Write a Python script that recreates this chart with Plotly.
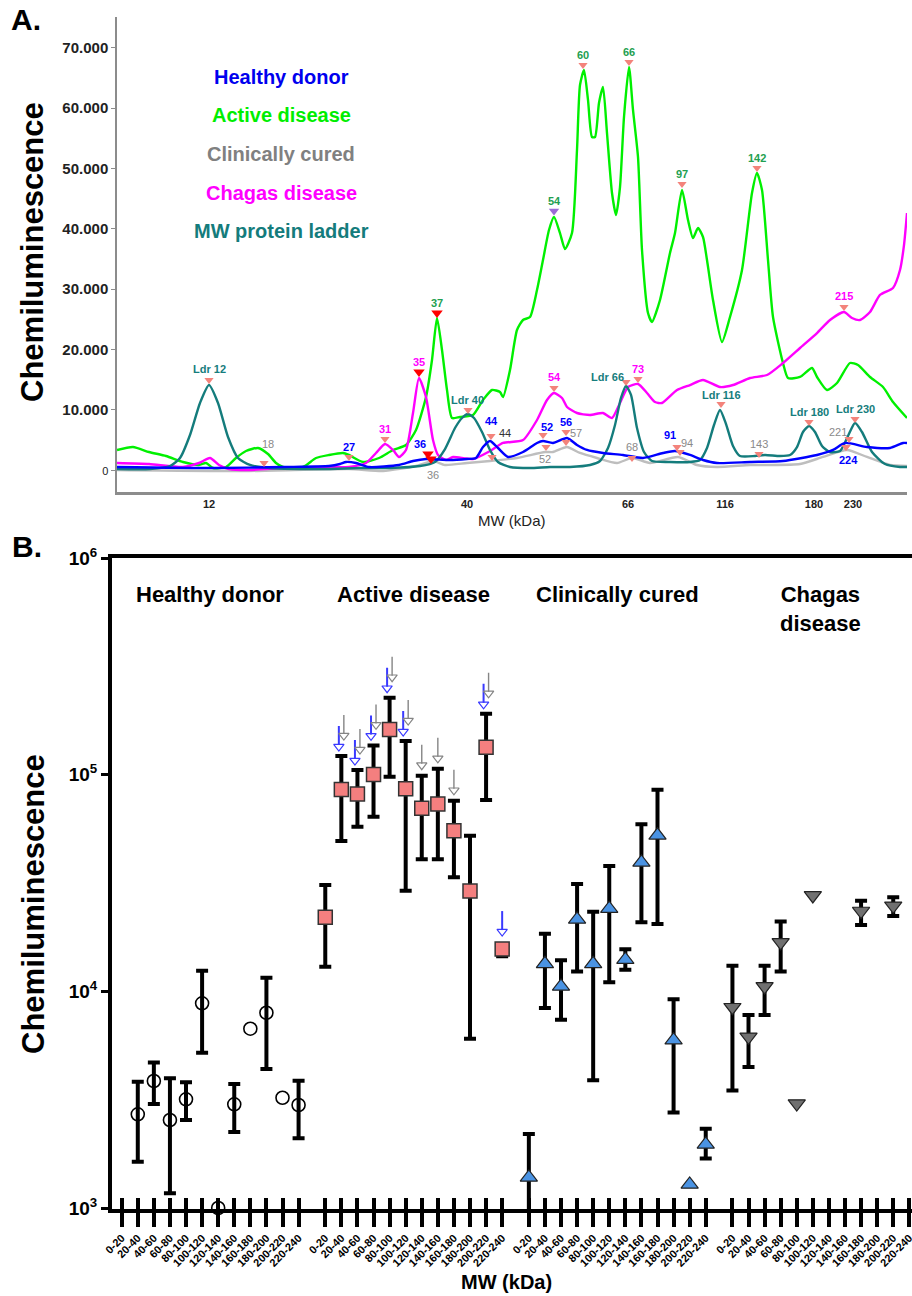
import math
import plotly.graph_objects as go

FONT = "Liberation Sans, Arial, sans-serif"
W, H = 912, 1296

# ======================= Panel A data =======================
# x = migration position on the blot (arbitrary units), y = chemiluminescence
mw_tick_pos = [209, 467, 628, 725, 814, 853]
mw_tick_text = ["12", "40", "66", "116", "180", "230"]
a_ytick_vals = [0, 10000, 20000, 30000, 40000, 50000, 60000, 70000]
a_ytick_text = ["0", "10.000", "20.000", "30.000", "40.000", "50.000", "60.000", "70.000"]

ladder_x = [117, 150, 170, 180, 190, 200, 209, 218, 228, 238, 250, 270, 300, 330, 360, 390, 420, 435, 445, 455,
            462, 468, 474, 482, 490, 498, 510, 530, 550, 570, 590, 600, 608, 615, 621, 626, 631, 637, 644, 652,
            670, 690, 700, 707, 714, 720, 726, 733, 740, 755, 765, 780, 790, 797, 803, 809, 815, 822, 830, 840,
            848, 855, 862, 872, 885, 900, 907]
ladder_y = [170, 170, 660, 1990, 5800, 11110, 14090, 11110, 5470, 1990, 830, 330, 170, 170, 330, 330, 660, 1330, 3480, 6960,
            8620, 9280, 8620, 6300, 3320, 1330, 500, 330, 500, 500, 830, 1490, 3650, 7460, 11940, 13930, 12440, 6960, 2980, 1490,
            1330, 1330, 1660, 3650, 7460, 9950, 7630, 3980, 2320, 2320, 2490, 2320, 2490, 3810, 6300, 7300, 6300, 3980, 2980, 3150,
            5640, 7790, 6300, 2980, 990, 500, 500]

active_x = [117, 133, 149, 166, 183, 199, 206, 213, 226, 236, 246, 258, 268, 276, 283, 303, 316, 329, 343, 349,
            363, 379, 393, 406, 416, 426, 432, 437, 442, 447, 452, 460, 473, 483, 492, 500, 503, 510, 517, 523,
            530, 537, 543, 549, 554, 560, 565, 572, 577, 580, 584, 588, 592, 595, 599, 603, 607, 612, 616, 620,
            624, 629, 633, 638, 642, 648, 652, 660, 670, 675, 682, 688, 693, 698, 703, 707, 713, 722, 730, 742,
            752, 757, 762, 768, 773, 783, 788, 800, 812, 817, 827, 837, 850, 858, 870, 883, 893, 907]
active_y = [3320, 3810, 2980, 2320, 1330, 830, 1160, 330, 500, 1990, 3150, 3650, 2650, 1160, 500, 500, 1990, 2490, 2820, 2490,
            1330, 1990, 3320, 4150, 6630, 12100, 18240, 25200, 19900, 13260, 8620, 8790, 9120, 11610, 13260, 12930, 12100, 16580, 23210, 24870,
            25370, 29840, 34820, 39790, 41950, 39290, 36640, 39290, 53060, 63830, 66320, 61350, 55210, 55210, 60850, 63500, 55870, 45930, 42280, 46920,
            58530, 66820, 59690, 51900, 36480, 26030, 24540, 28190, 35980, 39290, 46420, 41450, 38470, 40120, 38630, 34820, 28190, 21220, 25370, 33160,
            45930, 49240, 46420, 34820, 25370, 17740, 15250, 15420, 16910, 15420, 13260, 14420, 17740, 17410, 15420, 13760, 11270, 8620]

chagas_line_x = [117, 149, 183, 199, 210, 219, 229, 249, 283, 316, 349, 366, 376, 385, 393, 399, 406, 413, 419, 426,
                 433, 438, 446, 453, 473, 490, 503, 523, 537, 547, 554, 562, 567, 577, 590, 603, 612, 620, 628, 638,
                 647, 655, 662, 677, 690, 703, 720, 733, 750, 767, 783, 800, 817, 830, 844, 852, 860, 870, 880, 893,
                 900, 904, 907]
chagas_line_y = [1160, 990, 500, 1160, 1990, 830, 170, 0, 330, 500, 500, 1160, 2820, 4310, 3320, 2160, 3320, 9450, 15250, 12100,
                 4970, 2490, 1660, 2160, 1820, 3150, 4480, 4970, 8290, 11610, 12770, 11940, 10450, 9450, 9120, 9450, 8620, 11110, 13760, 14260,
                 12770, 11270, 11110, 13260, 14090, 14920, 13760, 14090, 15250, 15750, 17740, 20230, 22710, 24870, 26200, 25200, 24870, 26200, 29020, 30180,
                 33160, 37300, 42610]

healthy_line_x = [117, 216, 283, 329, 340, 346, 356, 369, 399, 413, 426, 449, 467, 476, 483, 490, 498, 508, 523, 537,
                  543, 553, 567, 577, 587, 603, 623, 643, 663, 675, 690, 703, 717, 750, 783, 817, 833, 845, 867, 890,
                  903, 907]
healthy_line_y = [500, 330, 500, 660, 990, 1330, 1160, 500, 830, 1490, 1820, 1660, 1820, 1990, 3810, 4810, 3650, 2160, 2980, 4480,
                  4810, 4480, 5310, 4150, 3320, 2820, 2490, 1990, 2820, 3150, 2490, 1660, 1160, 1330, 1490, 2490, 3320, 4480, 3810, 3650,
                  4480, 4480]

cured_line_x = [117, 249, 349, 383, 416, 433, 445, 467, 490, 517, 545, 553, 567, 580, 597, 617, 632, 650, 678, 697,
                717, 750, 767, 800, 823, 847, 867, 890, 907]
cured_line_y = [0, -170, 170, -170, 660, 1490, 830, 1160, 1490, 1990, 2980, 2980, 3810, 2820, 1990, 1160, 1990, 1160, 2160, 830,
                500, 830, 830, 990, 2160, 3320, 2160, 830, 660]

# Peak labels (text position and peak marker position)
peak_text = ["Ldr 12", "Ldr 40", "Ldr 66", "Ldr 116", "Ldr 180", "Ldr 230",
             "37", "54", "60", "66", "97", "142",
             "31", "35", "54", "73", "215",
             "27", "36", "44", "52", "56", "91", "224",
             "18", "36", "44", "52", "57", "68", "94", "143", "221"]
peak_series = ["ladder"] * 6 + ["active"] * 6 + ["chagas"] * 5 + ["healthy"] * 7 + \
              ["cured", "cured", "dark", "cured", "cured", "cured", "cured", "cured", "cured"]
peak_text_x = [209, 467, 607, 721, 809, 855, 437, 554, 583, 629, 682, 757, 385, 419, 554, 638, 844,
               349, 420, 491, 547, 566, 670, 848, 268, 433, 505, 545, 576, 632, 687, 759, 838]
peak_text_y = [16750, 11610, 15420, 12440, 9620, 10110, 27690, 44600, 68810, 69300, 49080, 51730,
               6800, 17910, 15420, 16750, 28850, 3810, 4310, 8120, 7130, 7960, 5800, 1660,
               4310, -830, 6130, 1820, 6130, 3810, 4480, 4310, 6300]
peak_mark_x = [209, 468, 626, 721, 809, 855, 437, 554, 583, 629, 682, 757, 385, 419, 554, 638, 844,
               349, 428, 491, 543, 566, 677, 846, 264, 431, 492, 546, 566, 632, 680, 759, 849]
peak_mark_y = [14920, 9950, 14590, 10940, 7960, 8460, 26030, 42940, 67150, 67650, 47420, 50070,
               5140, 16250, 13600, 15090, 27030, 2160, 2650, 5640, 5800, 6300, 3810, 3810,
               1160, 1820, 2160, 3810, 4640, 1990, 2980, 2650, 5140]
peak_mark_kind = ["s"] * 6 + ["r", "p", "s", "s", "s", "s"] + ["s", "r", "s", "s", "s"] + \
                 ["s", "r", "s", "s", "s", "s", "s"] + ["s", "r", "s", "s", "s", "s", "s", "s", "s"]

legend_names = ["Healthy donor", "Active disease", "Clinically cured", "Chagas disease", "MW protein ladder"]

# ======================= Panel B data =======================
mw_bins = ["0-20", "20-40", "40-60", "60-80", "80-100", "100-120", "120-140",
           "140-160", "160-180", "180-200", "200-220", "220-240"]
group_names = ["Healthy donor", "Active disease", "Clinically cured", "Chagas<br>disease"]

healthy_val = [None, 2707, 3855, 2547, 3175, 8806, 1000, 3010, 6722, 7965, 3228, 2987]
healthy_hi = [None, 3830, 4700, 3967, 3803, 12450, None, 3733, None, 11560, None, 3865]
healthy_lo = [None, 1636, 3020, 1169, 2547, 5210, None, 2244, None, 4379, None, 2097]

active_val = [21960, 85500, 81380, 100300, 161800, 86000, 69900, 73160, 55080, 29030, 133700, 15670]
active_hi = [30940, 121850, 105000, 136500, 226500, 142900, 98900, 106400, 75780, 52240, 190900, 15670]
active_lo = [12990, 49390, 57500, 63930, 97700, 29100, 40650, 40650, 33580, 6042, 76380, 14500]

cured_val = [1384, 13400, 10530, 21480, 13400, 24080, 14000, 39350, 52500, 5948, 1285, 1966]
cured_hi = [2196, 18460, 13900, 31280, 23290, 37900, 15630, 59000, 85300, 9194, None, 2320]
cured_lo = [700, 8375, 7400, 12340, 3890, 11020, 12580, 20850, 20460, 2759, None, 1694]

chagas_val = [8446, 6166, 10530, 16830, 3034, 27710, None, None, 23480, None, 24810, None]
chagas_hi = [13140, 7767, 13140, 21020, None, None, None, None, 26220, None, 27210, None]
chagas_lo = [3482, 4480, 7767, 12340, None, None, None, None, 20230, None, 22280, None]

# arrows above Active disease bins (1 = arrow present)
arrow_blue = [0, 1, 1, 1, 1, 1, 0, 0, 0, 0, 1, 1]
arrow_grey = [0, 1, 1, 1, 1, 1, 1, 1, 1, 0, 1, 0]

red_cutoff = 30900
green_cutoff = 12810

# ======================= layout helpers =======================
GROUP_STEP = 12.66
PX_PER_UNIT = 16.08
PX_PER_DEC = 650 / 3.0
B_XRANGE = [-0.603, 49.147]
B_YRANGE = [2.994, 6]
B_BOTTOM_PX = 1208 + (3 - B_YRANGE[0]) * PX_PER_DEC


def pos(g, i):
    return g * GROUP_STEP + i


def up(v, px):
    return v * 10 ** (px / PX_PER_DEC)


fig = go.Figure()

# ---------------- Panel A traces ----------------
line_w = 2.4
for xs, ys, col in [(cured_line_x, cured_line_y, "#BEBEBE"),
                    (active_x, active_y, "#00F000"),
                    (chagas_line_x, chagas_line_y, "#FF00FF"),
                    (ladder_x, ladder_y, "#147C7C"),
                    (healthy_line_x, healthy_line_y, "#0000FF")]:
    fig.add_trace(go.Scatter(x=xs, y=ys, mode="lines", xaxis="x", yaxis="y",
                             line=dict(color=col, width=line_w, shape="spline", smoothing=0.6),
                             hoverinfo="skip", showlegend=False))

mark_colors = {"s": "#F3837B", "r": "#FF0000", "p": "#9C6BD6"}
mark_sizes = {"s": 8, "r": 10, "p": 9}
for kind in ["s", "r", "p"]:
    xs = [x for x, k in zip(peak_mark_x, peak_mark_kind) if k == kind]
    ys = [y for y, k in zip(peak_mark_y, peak_mark_kind) if k == kind]
    fig.add_trace(go.Scatter(x=xs, y=ys, mode="markers", xaxis="x", yaxis="y",
                             marker=dict(symbol="triangle-down", size=mark_sizes[kind], color=mark_colors[kind],
                                         line=dict(width=0)),
                             hoverinfo="skip", showlegend=False))
# extra marker of "221"
fig.add_trace(go.Scatter(x=[846], y=[3810], mode="markers", xaxis="x", yaxis="y",
                         marker=dict(symbol="triangle-down", size=8, color="#F3837B"),
                         hoverinfo="skip", showlegend=False))

label_colors = {"ladder": "#167D7D", "active": "#22A050", "chagas": "#FF00FF",
                "healthy": "#0000FF", "cured": "#8A8A8A", "dark": "#333333"}

annotations = []
for t, s, tx, ty in zip(peak_text, peak_series, peak_text_x, peak_text_y):
    bold = s not in ("cured", "dark")
    annotations.append(dict(x=tx, y=ty, xref="x", yref="y", text=t, showarrow=False,
                            xanchor="center", yanchor="middle",
                            font=dict(family=FONT, size=11, color=label_colors[s],
                                      weight="bold" if bold else "normal")))

legend_colors = ["#0000EE", "#00EE00", "#808080", "#FF00FF", "#147C7C"]
legend_py = [77, 115, 154, 193, 231]
for name, col, py in zip(legend_names, legend_colors, legend_py):
    annotations.append(dict(x=281 / W, y=1 - py / H, xref="paper", yref="paper", text=name,
                            showarrow=False, xanchor="center", yanchor="middle",
                            font=dict(family=FONT, size=20, color=col, weight="bold")))


# ---------------- Panel B traces ----------------
def add_group(g, vals, his, los, marker):
    ex, ey, plus, minus = [], [], [], []
    for i, (v, h, l) in enumerate(zip(vals, his, los)):
        if v is not None and h is not None and l is not None:
            ex.append(pos(g, i))
            ey.append(v)
            plus.append(h - v)
            minus.append(v - l)
    # error bars only where they exist
    fig.add_trace(go.Scatter(
        x=ex, y=ey, mode="markers", xaxis="x2", yaxis="y2",
        marker=dict(size=4, opacity=0), cliponaxis=False,
        error_y=dict(type="data", symmetric=False, array=plus, arrayminus=minus,
                     color="black", thickness=4, width=6),
        hoverinfo="skip", showlegend=False))
    fig.add_trace(go.Scatter(
        x=[pos(g, i) for i in range(12)], y=vals, mode="markers", xaxis="x2", yaxis="y2",
        marker=marker, cliponaxis=False, hoverinfo="skip", showlegend=False))


add_group(0, healthy_val, healthy_hi, healthy_lo,
          dict(symbol="circle-open", size=13, color="black", line=dict(width=1.6, color="black")))
add_group(1, active_val, active_hi, active_lo,
          dict(symbol="square", size=14, color="#F47F7F", line=dict(width=1.5, color="#333333")))
add_group(2, cured_val, cured_hi, cured_lo,
          dict(symbol="triangle-up", size=15, color="#4A93E3", line=dict(width=1.2, color="#222222")))
add_group(3, chagas_val, chagas_hi, chagas_lo,
          dict(symbol="triangle-down", size=15, color="#707070", line=dict(width=1.2, color="#222222")))

# arrows
dx = 2.5 / PX_PER_UNIT
arrows = {"blue": ([], [], [], []), "grey": ([], [], [], [])}
for i in range(12):
    v, h = active_val[i], active_hi[i]
    base = h if (h is not None and h > v) else up(v, 7)
    both = arrow_blue[i] and arrow_grey[i]
    for key, flag in (("blue", arrow_blue[i]), ("grey", arrow_grey[i])):
        if not flag:
            continue
        if both:
            xo = -dx if key == "blue" else dx
            tip = up(base, 5 if key == "blue" else 16)
        else:
            xo = 0
            tip = up(base, 6)
        x = pos(1, i) + xo
        sx, sy, hx, hy = arrows[key]
        sx += [x, x, None]
        sy += [up(tip, 25), up(tip, 6), None]
        hx.append(x)
        hy.append(up(tip, 4.5))

for key, col, wd in (("blue", "#3A3AFF", 2.0), ("grey", "#858585", 1.4)):
    sx, sy, hx, hy = arrows[key]
    fig.add_trace(go.Scatter(x=sx, y=sy, mode="lines", xaxis="x2", yaxis="y2",
                             line=dict(color=col, width=wd), hoverinfo="skip", showlegend=False))
    fig.add_trace(go.Scatter(x=hx, y=hy, mode="markers", xaxis="x2", yaxis="y2",
                             marker=dict(symbol="triangle-down-open", size=9, color=col, line=dict(width=1.2)),
                             hoverinfo="skip", showlegend=False))

# dummy trace so the overlay tick axis exists
fig.add_trace(go.Scatter(x=[pos(0, 0)], y=[None], mode="markers", xaxis="x3", yaxis="y2",
                         hoverinfo="skip", showlegend=False))

shapes = []
for g in range(1, 4):
    xs = g * GROUP_STEP - (GROUP_STEP - 11) / 2
    shapes.append(dict(type="line", xref="x2", yref="y2", x0=xs, x1=xs, y0=3, y1=6,
                       line=dict(color="#555555", width=1, dash="1px,2px"), layer="below"))
shapes.append(dict(type="line", xref="x2", yref="y2", x0=-0.1, x1=B_XRANGE[1],
                   y0=math.log10(red_cutoff), y1=math.log10(red_cutoff),
                   line=dict(color="#FF0000", width=3, dash="3px,5px"), layer="below"))
shapes.append(dict(type="line", xref="x2", yref="y2", x0=0.3, x1=B_XRANGE[1],
                   y0=math.log10(green_cutoff), y1=math.log10(green_cutoff),
                   line=dict(color="#00CC00", width=3, dash="3px,5px"), layer="below"))

for g, name in enumerate(group_names):
    annotations.append(dict(x=pos(g, 5.5), y=1 - 580 / H, xref="x2", yref="paper", text=name,
                            showarrow=False, xanchor="center", yanchor="top",
                            font=dict(family=FONT, size=22, color="black", weight="bold")))

# titles
annotations += [
    dict(x=26 / W, y=1 - 20 / H, xref="paper", yref="paper", text="A.", showarrow=False,
         xanchor="center", yanchor="middle",
         font=dict(family=FONT, size=30, color="black", weight="bold")),
    dict(x=27 / W, y=1 - 547 / H, xref="paper", yref="paper", text="B.", showarrow=False,
         xanchor="center", yanchor="middle",
         font=dict(family=FONT, size=30, color="black", weight="bold")),
    dict(x=33 / W, y=1 - 252 / H, xref="paper", yref="paper", text="Chemiluminescence", textangle=-90,
         xanchor="center", yanchor="middle",
         showarrow=False, font=dict(family=FONT, size=31, color="black", weight="bold")),
    dict(x=33 / W, y=1 - 904 / H, xref="paper", yref="paper", text="Chemiluminescence", textangle=-90,
         xanchor="center", yanchor="middle",
         showarrow=False, font=dict(family=FONT, size=31, color="black", weight="bold")),
    dict(x=512 / W, y=1 - 521 / H, xref="paper", yref="paper", text="MW (kDa)", showarrow=False,
         xanchor="center", yanchor="middle",
         font=dict(family=FONT, size=15, color="#222222")),
    dict(x=506 / W, y=1 - 1282 / H, xref="paper", yref="paper", text="MW (kDa)", showarrow=False,
         xanchor="center", yanchor="middle",
         font=dict(family=FONT, size=20, color="black", weight="bold")),
]

b_tickvals = [pos(g, i) for g in range(4) for i in range(12)]
b_ticktext = mw_bins * 4

fig.update_layout(
    width=W, height=H, margin=dict(l=0, r=0, t=0, b=0, pad=0, autoexpand=False),
    paper_bgcolor="white", plot_bgcolor="white", showlegend=False,
    font=dict(family=FONT, color="black"),
    xaxis=dict(domain=[117 / W, 907 / W], anchor="y", range=[117, 907],
               showline=True, linecolor="#8C8C8C", linewidth=3, ticks="",
               tickvals=mw_tick_pos, ticktext=mw_tick_text,
               tickfont=dict(family=FONT, size=11, color="#222222", weight="bold"),
               showgrid=False, zeroline=False, automargin=False),
    yaxis=dict(domain=[1 - 492 / H, 1 - 17 / H], anchor="x", range=[-3648, 75107],
               showline=True, linecolor="#8C8C8C", linewidth=1.5, ticks="outside", ticklen=4,
               tickcolor="#8C8C8C", tickvals=a_ytick_vals,
               ticktext=["<span style='font-weight:normal;font-size:11px'>0</span>"] + a_ytick_text[1:],
               tickfont=dict(family=FONT, size=15, color="#222222", weight="bold"),
               showgrid=False, zeroline=False, automargin=False),
    xaxis2=dict(domain=[112 / W, 1.0], anchor="y2", range=B_XRANGE,
                showline=True, linecolor="black", linewidth=4, mirror=True,
                ticks="outside", ticklen=14, tickwidth=4, tickcolor="black",
                tickvals=b_tickvals, ticktext=b_ticktext, tickangle=-45,
                ticklabeloverflow="allow",
                tickfont=dict(family=FONT, size=11, color="black", weight="bold"),
                showgrid=False, zeroline=False, automargin=False),
    xaxis3=dict(overlaying="x2", anchor="y2", range=B_XRANGE,
                ticks="inside", ticklen=11, tickwidth=4, tickcolor="black",
                tickvals=b_tickvals, showticklabels=False, showline=False,
                showgrid=False, zeroline=False, automargin=False),
    yaxis2=dict(domain=[1 - B_BOTTOM_PX / H, 1 - 558 / H], anchor="x2", type="log", range=B_YRANGE,
                showline=True, linecolor="black", linewidth=4,
                ticks="outside", ticklen=7, tickwidth=3, tickcolor="black",
                tickvals=[1e3, 1e4, 1e5, 1e6],
                ticktext=["10<sup>3</sup>", "10<sup>4</sup>", "10<sup>5</sup>", "10<sup>6</sup>"],
                tickfont=dict(family=FONT, size=19, color="black", weight="bold"),
                showgrid=False, zeroline=False, automargin=False),
    shapes=shapes, annotations=annotations,
)

fig.write_html("out.html", config={"displayModeBar": False},
               post_script="document.body.style.margin='0px';document.body.style.padding='0px';"
                           "document.body.style.overflow='hidden';")
